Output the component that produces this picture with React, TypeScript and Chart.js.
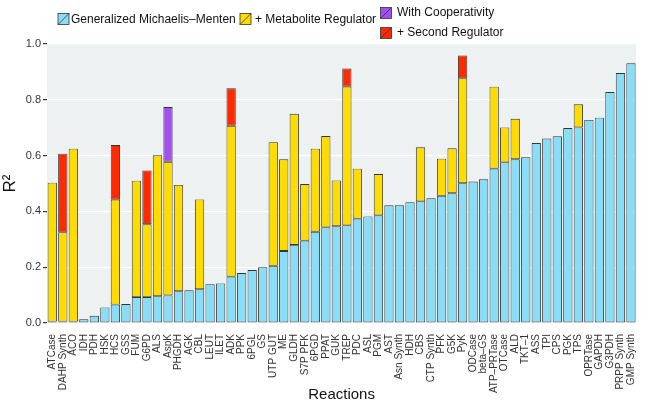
import React, { useEffect, useRef } from "react";
import { Chart, registerables } from "chart.js";

Chart.register(...registerables);

const reactions = [
  "ATCase", "DAHP Synth", "ACO", "IDH", "PDH", "HSK", "HCS", "GSS", "FUM", "G6PD",
  "ALS", "AspK", "PHGDH", "AGK", "CBL", "LEUT", "ILET", "ADK", "PPK", "6PGL",
  "GS", "UTP GUT", "ME", "GLDH", "S7P PFK", "6PGD", "PPAT", "GUK", "TREP", "PDC",
  "ASL", "PGM", "AST", "Asn Synth", "HDH", "CBS", "CTP Synth", "PFK", "G5K", "PyK",
  "ODCase", "beta–GS", "ATP–PRTase", "OTCase", "ALD", "TKT–1", "ASS", "TPI", "CPS", "PGK",
  "TPS", "OPRTase", "GAPDH", "G3PDH", "PRPP Synth", "GMP Synth",
];

// R² of the generalized Michaelis–Menten model
const mmR2 = [
  0.005, 0.005, 0.005, 0.013, 0.026, 0.056, 0.066, 0.068, 0.093, 0.093,
  0.096, 0.099, 0.114, 0.117, 0.121, 0.139, 0.142, 0.166, 0.179, 0.19,
  0.2, 0.205, 0.258, 0.28, 0.295, 0.327, 0.343, 0.347, 0.35, 0.374,
  0.382, 0.386, 0.422, 0.422, 0.433, 0.436, 0.447, 0.456, 0.465, 0.501,
  0.507, 0.515, 0.553, 0.576, 0.587, 0.594, 0.645, 0.661, 0.669, 0.699,
  0.701, 0.728, 0.736, 0.828, 0.896, 0.931,
];

// R² with a metabolite regulator (null = no improvement)
const metaboliteR2 = [
  0.503, 0.325, 0.625, null, null, null, 0.442, null, 0.51, 0.354,
  0.601, 0.578, 0.495, null, 0.443, null, null, 0.707, null, null,
  null, 0.648, 0.587, 0.75, 0.498, 0.625, 0.67, 0.511, 0.847, 0.553,
  null, 0.534, null, null, null, 0.63, null, 0.589, 0.626, 0.877,
  null, null, 0.847, 0.701, 0.732, null, null, null, null, null,
  0.784, null, null, null, null, null,
];

// R² with cooperativity
const cooperativityR2 = [
  null, null, null, null, null, null, null, null, null, null,
  null, 0.774, null, null, null, null, null, null, null, null,
  null, null, null, null, null, null, null, null, null, null,
  null, null, null, null, null, null, null, null, null, null,
  null, null, null, null, null, null, null, null, null, null,
  null, null, null, null, null, null,
];

// R² with a second regulator
const secondRegulatorR2 = [
  null, 0.607, null, null, null, null, 0.638, null, null, 0.547,
  null, null, null, null, null, null, null, 0.841, null, null,
  null, null, null, null, null, null, null, null, 0.912, null,
  null, null, null, null, null, null, null, null, null, 0.959,
  null, null, null, null, null, null, null, null, null, null,
  null, null, null, null, null, null,
];

const yTicks = [0, 0.2, 0.4, 0.6, 0.8, 1.0];

const seriesNames = [
  "Generalized Michaelis–Menten",
  "+ Metabolite Regulator",
  "With Cooperativity",
  "+ Second Regulator",
];

const COLORS = {
  mm: "#8ADDF6",
  met: "#FFDC00",
  coop: "#A24EF0",
  sec: "#FF2A00",
};
const FONT = "'Liberation Sans', Arial, Helvetica, sans-serif";

const inc = (a: (number | null)[], b: (number | null)[]) =>
  a.map((v, i) => (v == null || b[i] == null ? null : (v as number) - (b[i] as number)));

const panelPlugin = {
  id: "panelAndLegend",
  beforeDraw(chart: any) {
    const { ctx, chartArea: a } = chart;
    ctx.save();
    ctx.fillStyle = "#EDF1F2";
    ctx.fillRect(a.left, a.top, a.right - a.left, a.bottom - a.top);
    ctx.restore();
  },
  afterDraw(chart: any) {
    const { ctx } = chart;
    const items = [
      { color: COLORS.mm, x: 58, y: 13.5, tx: 71, ty: 19.5 },
      { color: COLORS.met, x: 240, y: 13.5, tx: 255, ty: 19.5 },
      { color: COLORS.coop, x: 380.5, y: 7.5, tx: 397, ty: 12.5 },
      { color: COLORS.sec, x: 380.5, y: 27.5, tx: 397, ty: 32.5 },
    ];
    ctx.save();
    items.forEach((it, i) => {
      const s = 11;
      ctx.fillStyle = it.color;
      ctx.fillRect(it.x, it.y, s, s);
      ctx.strokeStyle = "#333";
      ctx.lineWidth = 0.8;
      ctx.strokeRect(it.x, it.y, s, s);
      ctx.beginPath();
      ctx.moveTo(it.x, it.y + s);
      ctx.lineTo(it.x + s, it.y);
      ctx.stroke();
      ctx.fillStyle = "#111";
      ctx.font = `12px ${FONT}`;
      ctx.textBaseline = "middle";
      ctx.textAlign = "left";
      ctx.fillText(seriesNames[i], it.tx, it.ty);
    });
    ctx.restore();
  },
};

export default function App() {
  const ref = useRef<HTMLCanvasElement | null>(null);

  useEffect(() => {
    if (!ref.current) return;
    const barStyle = {
      borderColor: "#333",
      borderWidth: 0.9,
      borderSkipped: false as const,
      categoryPercentage: 1,
      barPercentage: 0.88,
      stack: "s",
    };
    const chart = new Chart(ref.current, {
      type: "bar",
      data: {
        labels: reactions,
        datasets: [
          { label: seriesNames[0], data: mmR2, backgroundColor: COLORS.mm, ...barStyle },
          { label: seriesNames[1], data: inc(metaboliteR2, mmR2), backgroundColor: COLORS.met, ...barStyle },
          { label: seriesNames[3], data: inc(secondRegulatorR2, metaboliteR2), backgroundColor: COLORS.sec, ...barStyle },
          { label: seriesNames[2], data: inc(cooperativityR2, metaboliteR2), backgroundColor: COLORS.coop, ...barStyle },
        ] as any,
      },
      options: {
        animation: false,
        responsive: false,
        layout: { padding: { left: 0, right: 5, top: 44, bottom: 0 } },
        plugins: { legend: { display: false }, tooltip: { enabled: false } },
        scales: {
          x: {
            stacked: true,
            offset: true,
            grid: { display: false },
            border: { display: false },
            ticks: {
              autoSkip: false,
              minRotation: 90,
              maxRotation: 90,
              padding: 3,
              color: "#333",
              font: { size: 10, family: FONT },
            },
            title: {
              display: true,
              text: "Reactions",
              color: "#111",
              font: { size: 15, family: FONT },
              padding: { top: 0, bottom: 0 },
            },
            afterFit(scale: any) {
              scale.height = 81;
            },
          },
          y: {
            stacked: true,
            min: 0,
            max: 1,
            afterBuildTicks(scale: any) {
              scale.ticks = yTicks.map((v) => ({ value: v }));
            },
            grid: {
              color: "#FFFFFF",
              lineWidth: 1.2,
              tickColor: "#333",
              tickLength: 4,
            },
            border: { display: false },
            ticks: {
              padding: 2,
              color: "#333",
              font: { size: 11, family: FONT },
              callback: (v: any) => Number(v).toFixed(1),
            },
            title: {
              display: true,
              text: "R²",
              color: "#111",
              font: { size: 17, family: FONT },
              padding: { top: 0, bottom: 0 },
            },
            afterFit(scale: any) {
              scale.width = 47;
            },
          },
        },
      },
      plugins: [panelPlugin],
    });
    return () => chart.destroy();
  }, []);

  return (
    <div style={{ position: "absolute", left: 0, top: 0, width: 646, height: 404, background: "#fff" }}>
      <canvas ref={ref} width={646} height={404} style={{ display: "block" }} />
    </div>
  );
}
